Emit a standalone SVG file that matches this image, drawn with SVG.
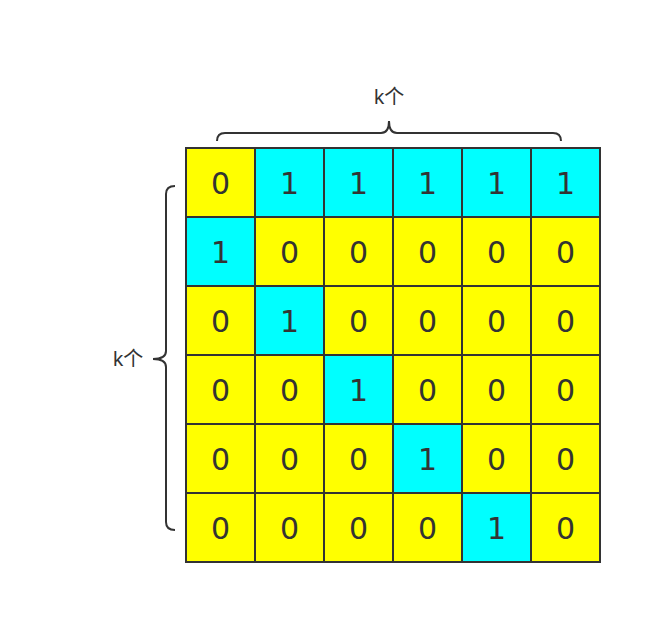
<svg xmlns="http://www.w3.org/2000/svg" width="662" height="624" viewBox="0 0 662 624">
<style>
.y{fill:#ffff00;stroke:#333;stroke-width:2}
.c{fill:#00ffff;stroke:#333;stroke-width:2}
.n{font-family:"DejaVu Sans","Noto Sans",sans-serif;font-size:30px;fill:#333;text-anchor:middle;dominant-baseline:central}
.lb{font-family:"Noto Sans","Noto Sans CJK SC",sans-serif;font-size:20px;fill:#333;text-anchor:middle;dominant-baseline:central}
.br{fill:none;stroke:#333;stroke-width:2}
</style>
<rect width="662" height="624" fill="#fff"/>
<g id="braces">
<path class="br" d="M217,141 Q217,133 225,133 L381,133 Q389,133 389,121 Q389,133 397,133 L553,133 Q561,133 561,141"/>
<path class="br" d="M175,186 Q166,186 166,194 L166,351 Q166,359 153,359 Q166,359 166,367 L166,522 Q166,530 175,530"/>
</g>
<g id="label-top"><text class="lb" x="389" y="96">k个</text></g>
<g id="label-left"><text class="lb" x="128" y="358">k个</text></g>
<g id="grid">
<g id="r0">
<rect class="y" x="186" y="148" width="69" height="69"/><text class="n" x="220.5" y="183.5">0</text>
<rect class="c" x="255" y="148" width="69" height="69"/><text class="n" x="289.5" y="183.5">1</text>
<rect class="c" x="324" y="148" width="69" height="69"/><text class="n" x="358.5" y="183.5">1</text>
<rect class="c" x="393" y="148" width="69" height="69"/><text class="n" x="427.5" y="183.5">1</text>
<rect class="c" x="462" y="148" width="69" height="69"/><text class="n" x="496.5" y="183.5">1</text>
<rect class="c" x="531" y="148" width="69" height="69"/><text class="n" x="565.5" y="183.5">1</text>
</g>
<g id="r1">
<rect class="c" x="186" y="217" width="69" height="69"/><text class="n" x="220.5" y="252.5">1</text>
<rect class="y" x="255" y="217" width="69" height="69"/><text class="n" x="289.5" y="252.5">0</text>
<rect class="y" x="324" y="217" width="69" height="69"/><text class="n" x="358.5" y="252.5">0</text>
<rect class="y" x="393" y="217" width="69" height="69"/><text class="n" x="427.5" y="252.5">0</text>
<rect class="y" x="462" y="217" width="69" height="69"/><text class="n" x="496.5" y="252.5">0</text>
<rect class="y" x="531" y="217" width="69" height="69"/><text class="n" x="565.5" y="252.5">0</text>
</g>
<g id="r2">
<rect class="y" x="186" y="286" width="69" height="69"/><text class="n" x="220.5" y="321.5">0</text>
<rect class="c" x="255" y="286" width="69" height="69"/><text class="n" x="289.5" y="321.5">1</text>
<rect class="y" x="324" y="286" width="69" height="69"/><text class="n" x="358.5" y="321.5">0</text>
<rect class="y" x="393" y="286" width="69" height="69"/><text class="n" x="427.5" y="321.5">0</text>
<rect class="y" x="462" y="286" width="69" height="69"/><text class="n" x="496.5" y="321.5">0</text>
<rect class="y" x="531" y="286" width="69" height="69"/><text class="n" x="565.5" y="321.5">0</text>
</g>
<g id="r3">
<rect class="y" x="186" y="355" width="69" height="69"/><text class="n" x="220.5" y="390.5">0</text>
<rect class="y" x="255" y="355" width="69" height="69"/><text class="n" x="289.5" y="390.5">0</text>
<rect class="c" x="324" y="355" width="69" height="69"/><text class="n" x="358.5" y="390.5">1</text>
<rect class="y" x="393" y="355" width="69" height="69"/><text class="n" x="427.5" y="390.5">0</text>
<rect class="y" x="462" y="355" width="69" height="69"/><text class="n" x="496.5" y="390.5">0</text>
<rect class="y" x="531" y="355" width="69" height="69"/><text class="n" x="565.5" y="390.5">0</text>
</g>
<g id="r4">
<rect class="y" x="186" y="424" width="69" height="69"/><text class="n" x="220.5" y="459.5">0</text>
<rect class="y" x="255" y="424" width="69" height="69"/><text class="n" x="289.5" y="459.5">0</text>
<rect class="y" x="324" y="424" width="69" height="69"/><text class="n" x="358.5" y="459.5">0</text>
<rect class="c" x="393" y="424" width="69" height="69"/><text class="n" x="427.5" y="459.5">1</text>
<rect class="y" x="462" y="424" width="69" height="69"/><text class="n" x="496.5" y="459.5">0</text>
<rect class="y" x="531" y="424" width="69" height="69"/><text class="n" x="565.5" y="459.5">0</text>
</g>
<g id="r5">
<rect class="y" x="186" y="493" width="69" height="69"/><text class="n" x="220.5" y="528.5">0</text>
<rect class="y" x="255" y="493" width="69" height="69"/><text class="n" x="289.5" y="528.5">0</text>
<rect class="y" x="324" y="493" width="69" height="69"/><text class="n" x="358.5" y="528.5">0</text>
<rect class="y" x="393" y="493" width="69" height="69"/><text class="n" x="427.5" y="528.5">0</text>
<rect class="c" x="462" y="493" width="69" height="69"/><text class="n" x="496.5" y="528.5">1</text>
<rect class="y" x="531" y="493" width="69" height="69"/><text class="n" x="565.5" y="528.5">0</text>
</g>
</g>
</svg>
